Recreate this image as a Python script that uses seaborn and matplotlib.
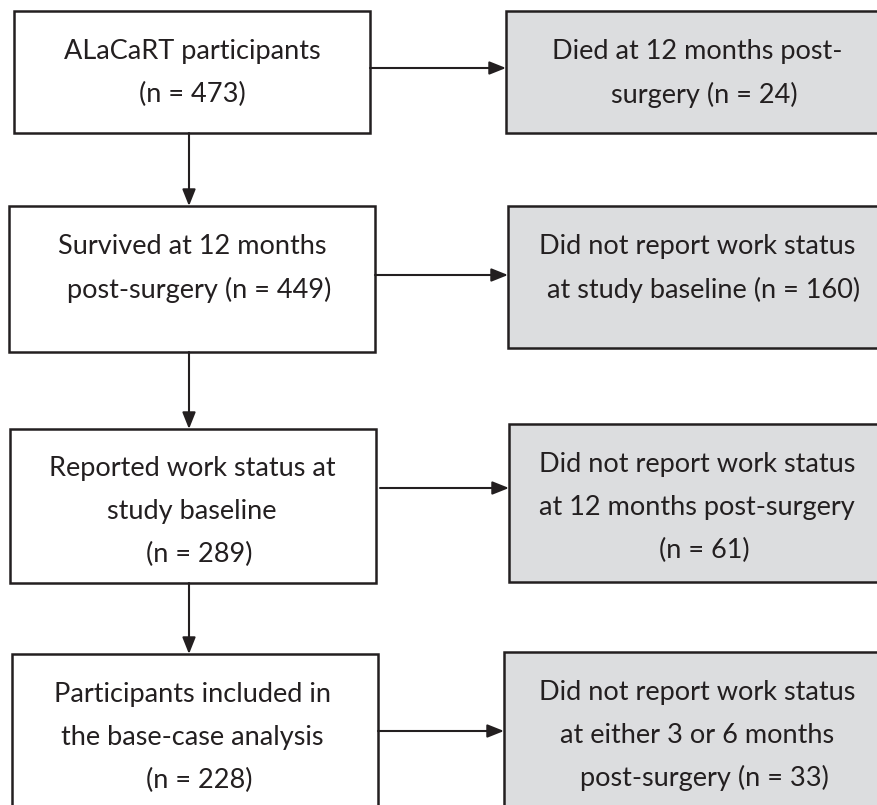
import matplotlib
matplotlib.use("Agg")
import matplotlib.pyplot as plt
import matplotlib.patches as patches
import seaborn as sns

# flow stages (left column) and exclusions (right column)
stage_text = [
    ["ALaCaRT participants", "(n = {})"],
    ["Survived at 12 months", "  post-surgery (n = {})"],
    ["Reported work status at", "study baseline", "  (n = {})"],
    ["Participants included in", "the base-case analysis", "  (n = {})"],
]
stage_n = [473, 449, 289, 228]

excl_text = [
    ["Died at 12 months post-", "  surgery (n = {})"],
    ["Did not report work status", "  at study baseline (n = {})"],
    ["Did not report work status", "at 12 months post-surgery", "  (n = {})"],
    ["Did not report work status", "at either 3 or 6 months", "  post-surgery (n = {})"],
]
excl_n = [24, 160, 61, 33]

# layout in pixel units (x0, y0, x1, y1)
left_boxes = [(14, 11, 370, 133), (9, 206, 375, 352), (10, 429, 376, 583), (12, 654, 378, 840)]
right_boxes = [(506, 11, 890, 133), (508, 206, 890, 348), (509, 424, 890, 582), (504, 652, 890, 840)]
arrow_y = [68, 275, 488, 731]
arrow_x0 = [370, 375, 380, 378]
text_left_y = [73, 268, 511, 737]
text_right_y = [73, 268, 507, 735]
down_x = 189
line_gap = 43

ink = "#231F20"
grey = "#DCDDDF"

sns.set_style("white")
plt.rcParams["font.family"] = ["Lato", "DejaVu Sans"]

fig = plt.figure(figsize=(8.77, 8.05), dpi=100)
ax = fig.add_axes([0, 0, 1, 1])
ax.set_xlim(0, 877)
ax.set_ylim(805, 0)
ax.axis("off")


def draw_box(box, face):
    x0, y0, x1, y1 = box
    ax.add_patch(patches.Rectangle((x0, y0), x1 - x0, y1 - y0,
                                   facecolor=face, edgecolor=ink, linewidth=1.8))


def draw_lines(lines, n, xc, yc):
    k = len(lines)
    for i, s in enumerate(lines):
        y = yc + (i - (k - 1) / 2) * line_gap
        ax.text(xc, y, s.format(n), ha="center", va="center",
                fontsize=19.5, color=ink)


def arrow(x0, y0, x1, y1):
    ax.annotate("", xy=(x1, y1), xytext=(x0, y0),
                arrowprops=dict(arrowstyle="-|>,head_length=1.0,head_width=0.4",
                                color=ink, lw=1.5, shrinkA=0, shrinkB=0))


for i in range(4):
    lb = left_boxes[i]
    rb = right_boxes[i]
    draw_box(lb, "white")
    draw_box(rb, grey)
    draw_lines(stage_text[i], stage_n[i], 192, text_left_y[i])
    draw_lines(excl_text[i], excl_n[i], 697, text_right_y[i])
    arrow(arrow_x0[i], arrow_y[i], rb[0], arrow_y[i])
    if i < 3:
        arrow(down_x, lb[3], down_x, left_boxes[i + 1][1])

fig.savefig("out.png", dpi=100)
